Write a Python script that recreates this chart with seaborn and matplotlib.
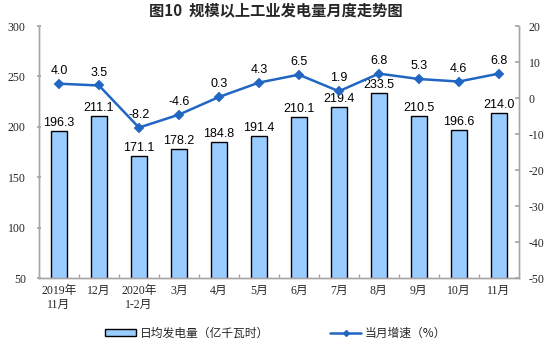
import matplotlib
matplotlib.use("Agg")
import matplotlib.pyplot as plt
import seaborn as sns
import pandas as pd
import numpy as np
from matplotlib.patches import Patch
from matplotlib.lines import Line2D

# Monthly industrial power generation data
months = ["2019年\n11月", "12月", "2020年\n1-2月", "3月", "4月", "5月",
          "6月", "7月", "8月", "9月", "10月", "11月"]
daily_output = [196.3, 211.1, 171.1, 178.2, 184.8, 191.4,
                210.1, 219.4, 233.5, 210.5, 196.6, 214.0]
yoy_growth = [4.0, 3.5, -8.2, -4.6, 0.3, 4.3, 6.5, 1.9, 6.8, 5.3, 4.6, 6.8]

left_ticks = [50, 100, 150, 200, 250, 300]
right_ticks = [-50, -40, -30, -20, -10, 0, 10, 20]

sns.set_theme(style="white")
plt.rcParams["font.family"] = ["Noto Sans CJK SC", "DejaVu Sans"]

df = pd.DataFrame({"month": months, "output": daily_output, "growth": yoy_growth})

bar_color = "#99CCFF"
line_color = "#2166C2"
spine_color = "#A6A6A6"
num_font = ["Liberation Serif", "Noto Sans CJK SC"]
lab_font = ["Liberation Sans", "DejaVu Sans"]

fig = plt.figure(figsize=(5.49, 3.48), dpi=100)
ax = fig.add_axes([0.071, 0.201, 0.874, 0.724])

sns.barplot(data=df, x="month", y="output", ax=ax, color=bar_color,
            edgecolor="black", linewidth=1.0, width=0.4, saturation=1)
ax.set_ylim(50, 300)
ax.set_xlim(-0.5, len(months) - 0.5)
ax.set_yticks(left_ticks)
ax.set_yticklabels([str(t) for t in left_ticks], family=num_font, fontsize=8.5)
ax.set_xlabel("")
ax.set_ylabel("")
ax.set_xticks(range(len(months)))
ax.set_xticklabels(months, family=num_font, fontsize=8.5, linespacing=1.25)
ax.set_xticks(np.arange(0.5, len(months) - 0.5, 1), minor=True)
ax.tick_params(axis="x", which="major", length=0, pad=5)
ax.tick_params(axis="x", which="minor", length=3, direction="in", color=spine_color, bottom=True)
ax.tick_params(axis="y", length=3, direction="inout", color=spine_color, left=True, pad=8)

for i, v in enumerate(daily_output):
    ax.text(i, v + 2, f"{v:.1f}", ha="center", va="bottom",
            family=lab_font, fontsize=9, color="black")

ax2 = ax.twinx()
sns.pointplot(data=df, x="month", y="growth", ax=ax2, color=line_color,
              markers="D", markersize=4, linewidth=1.8)
ax2.set_ylim(-50, 20)
ax2.set_xlim(-0.5, len(months) - 0.5)
ax2.set_yticks(right_ticks)
ax2.set_yticklabels([str(t) for t in right_ticks], family=num_font, fontsize=8.5)
ax2.set_ylabel("")
ax2.set_xlabel("")
ax2.tick_params(axis="y", length=3, direction="in", color=spine_color, right=True, pad=7)

for i, v in enumerate(yoy_growth):
    ax2.annotate(f"{v:.1f}", (i, v), xytext=(0, 5), textcoords="offset points",
                 ha="center", va="bottom", family=lab_font, fontsize=9, color="black")

for a in (ax, ax2):
    for side in ("left", "right", "bottom"):
        a.spines[side].set_visible(True)
        a.spines[side].set_color(spine_color)
        a.spines[side].set_linewidth(1.0)
    a.spines["top"].set_visible(False)
    a.grid(False)

fig.text(0.502, 0.967, "图10  规模以上工业发电量月度走势图", ha="center", va="center",
         fontsize=11, fontweight="bold")

handles = [Patch(facecolor=bar_color, edgecolor="black", linewidth=1.0),
           Line2D([0], [0], color=line_color, marker="D", markersize=3, linewidth=1.8)]
fig.legend(handles, ["日均发电量（亿千瓦时）", "当月增速（%）"],
           loc="center", bbox_to_anchor=(0.502, 0.043), ncol=2, frameon=False,
           fontsize=8.5, handlelength=2.6, handleheight=0.6, columnspacing=5.2,
           handletextpad=0.3)

fig.savefig("out.png", dpi=100)
